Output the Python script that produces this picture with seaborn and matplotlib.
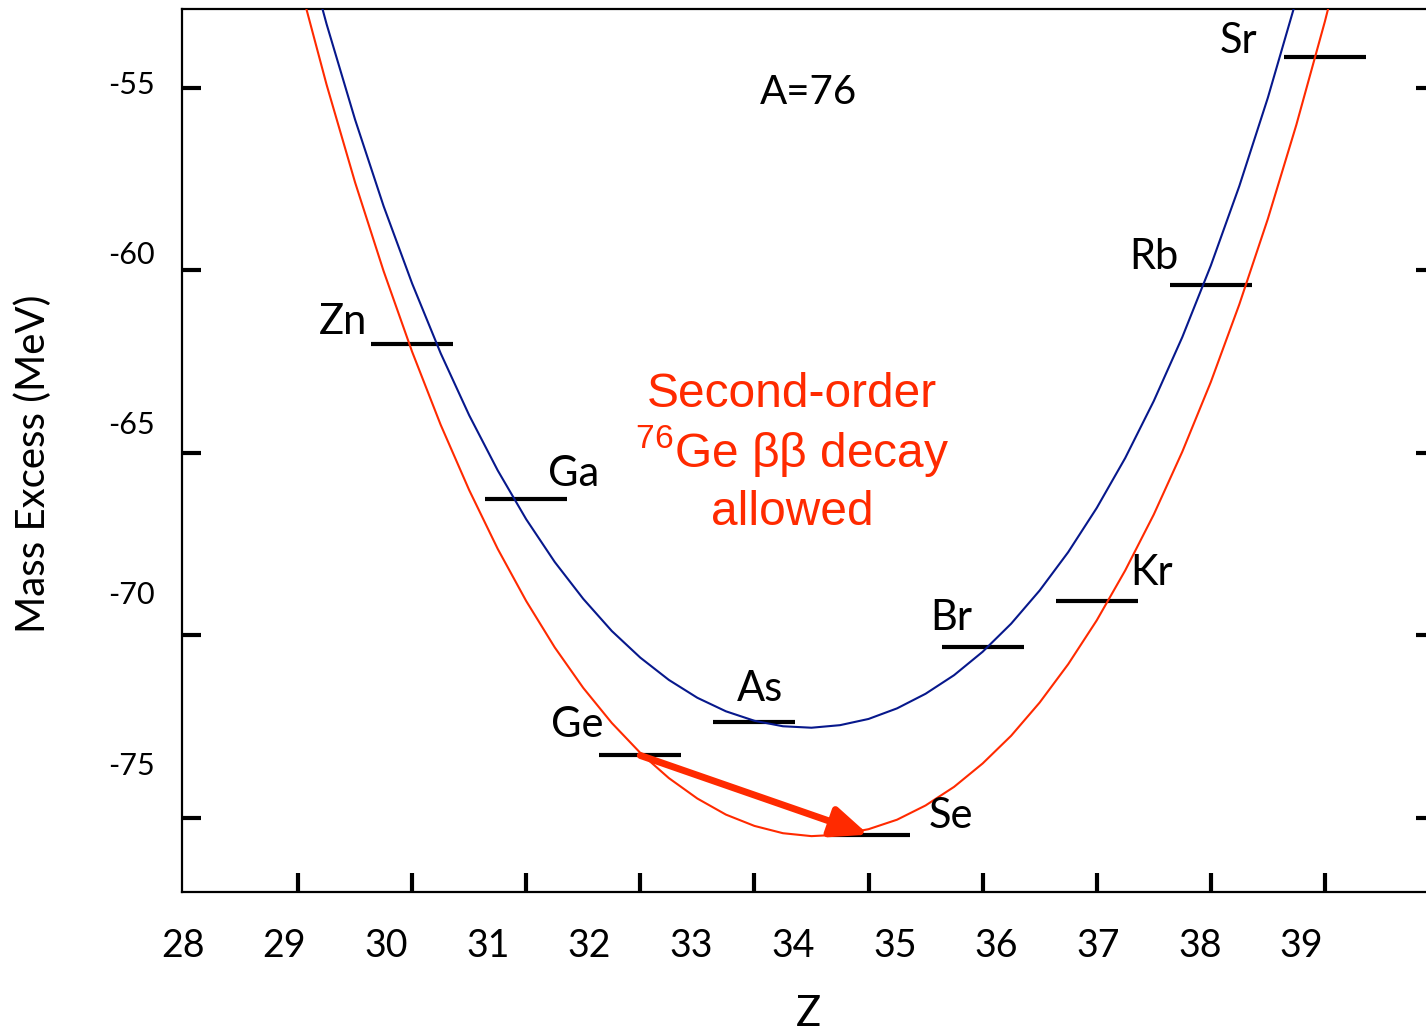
import numpy as np
import pandas as pd
import matplotlib
matplotlib.use("Agg")
import matplotlib.pyplot as plt
import seaborn as sns

# ---------------------------------------------------------------------------
# Isobar chain A = 76: mass excess of each nuclide (MeV) versus proton number Z
elements = ["Zn", "Ga", "Ge", "As", "Se", "Br", "Kr", "Rb", "Sr"]
z_values = [30, 31, 32, 33, 34, 35, 36, 37, 38]
mass_excess = [-62.04, -66.27, -73.30, -72.39, -75.47, -70.33, -69.07, -60.40, -54.17]

# Mass parabola through the odd-odd nuclides (upper curve)
odd_z = [29.00, 29.25, 29.50, 29.75, 30.00, 30.25, 30.50, 30.75, 31.00, 31.25,
         31.50, 31.75, 32.00, 32.25, 32.50, 32.75, 33.00, 33.25, 33.50, 33.75,
         34.00, 34.25, 34.50, 34.75, 35.00, 35.25, 35.50, 35.75, 36.00, 36.25,
         36.50, 36.75, 37.00, 37.25, 37.50, 37.75, 38.00]
odd_m = [-50.37, -53.26, -55.88, -58.25, -60.37, -62.28, -63.98, -65.49, -66.83, -68.00,
         -69.01, -69.89, -70.62, -71.23, -71.72, -72.09, -72.35, -72.50, -72.54, -72.47,
         -72.30, -72.01, -71.61, -71.10, -70.46, -69.69, -68.78, -67.73, -66.52, -65.15,
         -63.59, -61.84, -59.88, -57.70, -55.28, -52.59, -49.63]

# Mass parabola through the even-even nuclides (lower curve)
even_z = [29.00, 29.25, 29.50, 29.75, 30.00, 30.25, 30.50, 30.75, 31.00, 31.25,
          31.50, 31.75, 32.00, 32.25, 32.50, 32.75, 33.00, 33.25, 33.50, 33.75,
          34.00, 34.25, 34.50, 34.75, 35.00, 35.25, 35.50, 35.75, 36.00, 36.25,
          36.50, 36.75, 37.00, 37.25, 37.50, 37.75, 38.00, 38.25]
even_m = [-51.99, -54.92, -57.60, -60.03, -62.24, -64.24, -66.03, -67.64, -69.07, -70.34,
          -71.45, -72.41, -73.23, -73.92, -74.48, -74.92, -75.23, -75.43, -75.51, -75.47,
          -75.32, -75.06, -74.67, -74.16, -73.52, -72.76, -71.85, -70.80, -69.60, -68.23,
          -66.70, -64.98, -63.07, -60.94, -58.60, -56.02, -53.19, -50.10]

x_tick_values = [29, 30, 31, 32, 33, 34, 35, 36, 37, 38]
y_tick_values = [-55, -60, -65, -70, -75]
x_label_values = [28, 29, 30, 31, 32, 33, 34, 35, 36, 37, 38, 39]
y_label_values = [-55, -60, -65, -70, -75]

title_text = "A=76"
note_lines = ["Second-order", r"$^{\mathregular{76}}$Ge ββ decay", "allowed"]

# ---------------------------------------------------------------------------
BLUE = "#07188C"
RED = "#FF2A00"
SANS = ["Lato", "DejaVu Sans"]
HELV = ["Liberation Sans", "DejaVu Sans"]

sns.set_style("ticks")
plt.rcParams["font.family"] = SANS

fig = plt.figure(figsize=(14.26, 10.34), dpi=100)
fig.patch.set_facecolor("white")
ax = fig.add_axes([182 / 1426, 1 - 891.5 / 1034, (1435 - 182) / 1426, (891.5 - 9) / 1034])
ax.set_facecolor("white")

curves = pd.concat([
    pd.DataFrame({"Z": odd_z, "M": odd_m, "family": "odd-odd"}),
    pd.DataFrame({"Z": even_z, "M": even_m, "family": "even-even"}),
])
sns.lineplot(data=curves, x="Z", y="M", hue="family", palette={"odd-odd": BLUE, "even-even": RED},
             sort=False, estimator=None, linewidth=1.5, legend=False, ax=ax, zorder=3)

# nuclide levels as short horizontal bars
half_width = 0.36
ax.hlines(mass_excess, [z - half_width for z in z_values], [z + half_width for z in z_values],
          colors="black", linewidth=3.0, zorder=2)

# element names beside each level (alignment, dx, dy in pixels)
label_style = {
    "Zn": ("right", -45, 10), "Ga": ("left", 22, 13), "Ge": ("right", -37, 18),
    "As": ("center", 6, 21), "Se": ("left", 60, 7), "Br": ("right", -10, 17),
    "Kr": ("left", 34, 16), "Rb": ("right", -32, 16), "Sr": ("right", -68, 4),
}
for el, z, m in zip(elements, z_values, mass_excess):
    ha, dx, dy = label_style[el]
    ax.annotate(el, xy=(z, m), xytext=(dx, dy), textcoords="offset pixels",
                ha=ha, va="baseline", fontsize=30, color="black", zorder=5)

# double-beta transition Ge -> Se
i_ge, i_se = elements.index("Ge"), elements.index("Se")
ax.annotate("", xy=(z_values[i_se], mass_excess[i_se]),
            xytext=(z_values[i_ge], mass_excess[i_ge]),
            arrowprops=dict(arrowstyle="-|>,head_length=1.0,head_width=0.42",
                            mutation_scale=22, lw=5, color=RED,
                            shrinkA=0, shrinkB=0),
            zorder=4)

ax.set_xlim(27.983, 38.965)
ax.set_ylim(-77.027, -52.849)
ax.set_xlabel("")
ax.set_ylabel("")

# inward tick marks on the frame
ax.set_xticks(x_tick_values)
ax.set_yticks(y_tick_values)
ax.tick_params(axis="both", direction="in", length=14, width=3, color="black",
               labelbottom=False, labelleft=False)
ax.tick_params(axis="x", top=False, bottom=True)
ax.tick_params(axis="y", left=True, right=True, labelright=False)
for side in ["left", "right", "top", "bottom"]:
    ax.spines[side].set_visible(True)
    ax.spines[side].set_linewidth(1.6)
    ax.spines[side].set_color("black")

# numeric scales printed along the frame
def x_fwd(d):
    return 28 + (np.asarray(d) - 27.99) / 0.8915

def x_inv(v):
    return 27.99 + (np.asarray(v) - 28) * 0.8915

def y_fwd(d):
    return -55 + (np.asarray(d) + 54.849) / 0.93288

def y_inv(v):
    return -54.849 + (np.asarray(v) + 55) * 0.93288

secx = ax.secondary_xaxis("bottom", functions=(x_fwd, x_inv))
secx.set_xticks(x_label_values)
secx.set_xticklabels([str(v) for v in x_label_values])
secx.tick_params(length=0, pad=26, labelsize=27, labelcolor="black")
secx.spines["bottom"].set_visible(False)

secy = ax.secondary_yaxis("left", functions=(y_fwd, y_inv))
secy.set_yticks(y_label_values)
secy.set_yticklabels([str(v) for v in y_label_values])
secy.tick_params(length=0, pad=19.5, labelsize=22, labelcolor="black")
secy.spines["left"].set_visible(False)

# axis titles
ax.text(0.5, -(1033 - 891.5) / 882.5, "Z", transform=ax.transAxes, ha="center", va="bottom",
        fontsize=30, color="black")
ax.text((33 - 182) / 1253, 1 - (464 - 9) / 882.5, "Mass Excess (MeV)", transform=ax.transAxes,
        rotation=90, ha="center", va="center", fontsize=29, color="black")

# chain label and annotation
ax.text(0.5, 1 - (104 - 9) / 882.5, title_text, transform=ax.transAxes,
        ha="center", va="baseline", fontsize=29, color="black")
for line, yb in zip(note_lines, [0.5493, 0.4807, 0.4153]):
    ax.text(0.4868, yb, line, transform=ax.transAxes, ha="center", va="baseline",
            fontsize=34.5, color=RED, family=HELV)

fig.savefig("out.png", dpi=100, facecolor="white")
